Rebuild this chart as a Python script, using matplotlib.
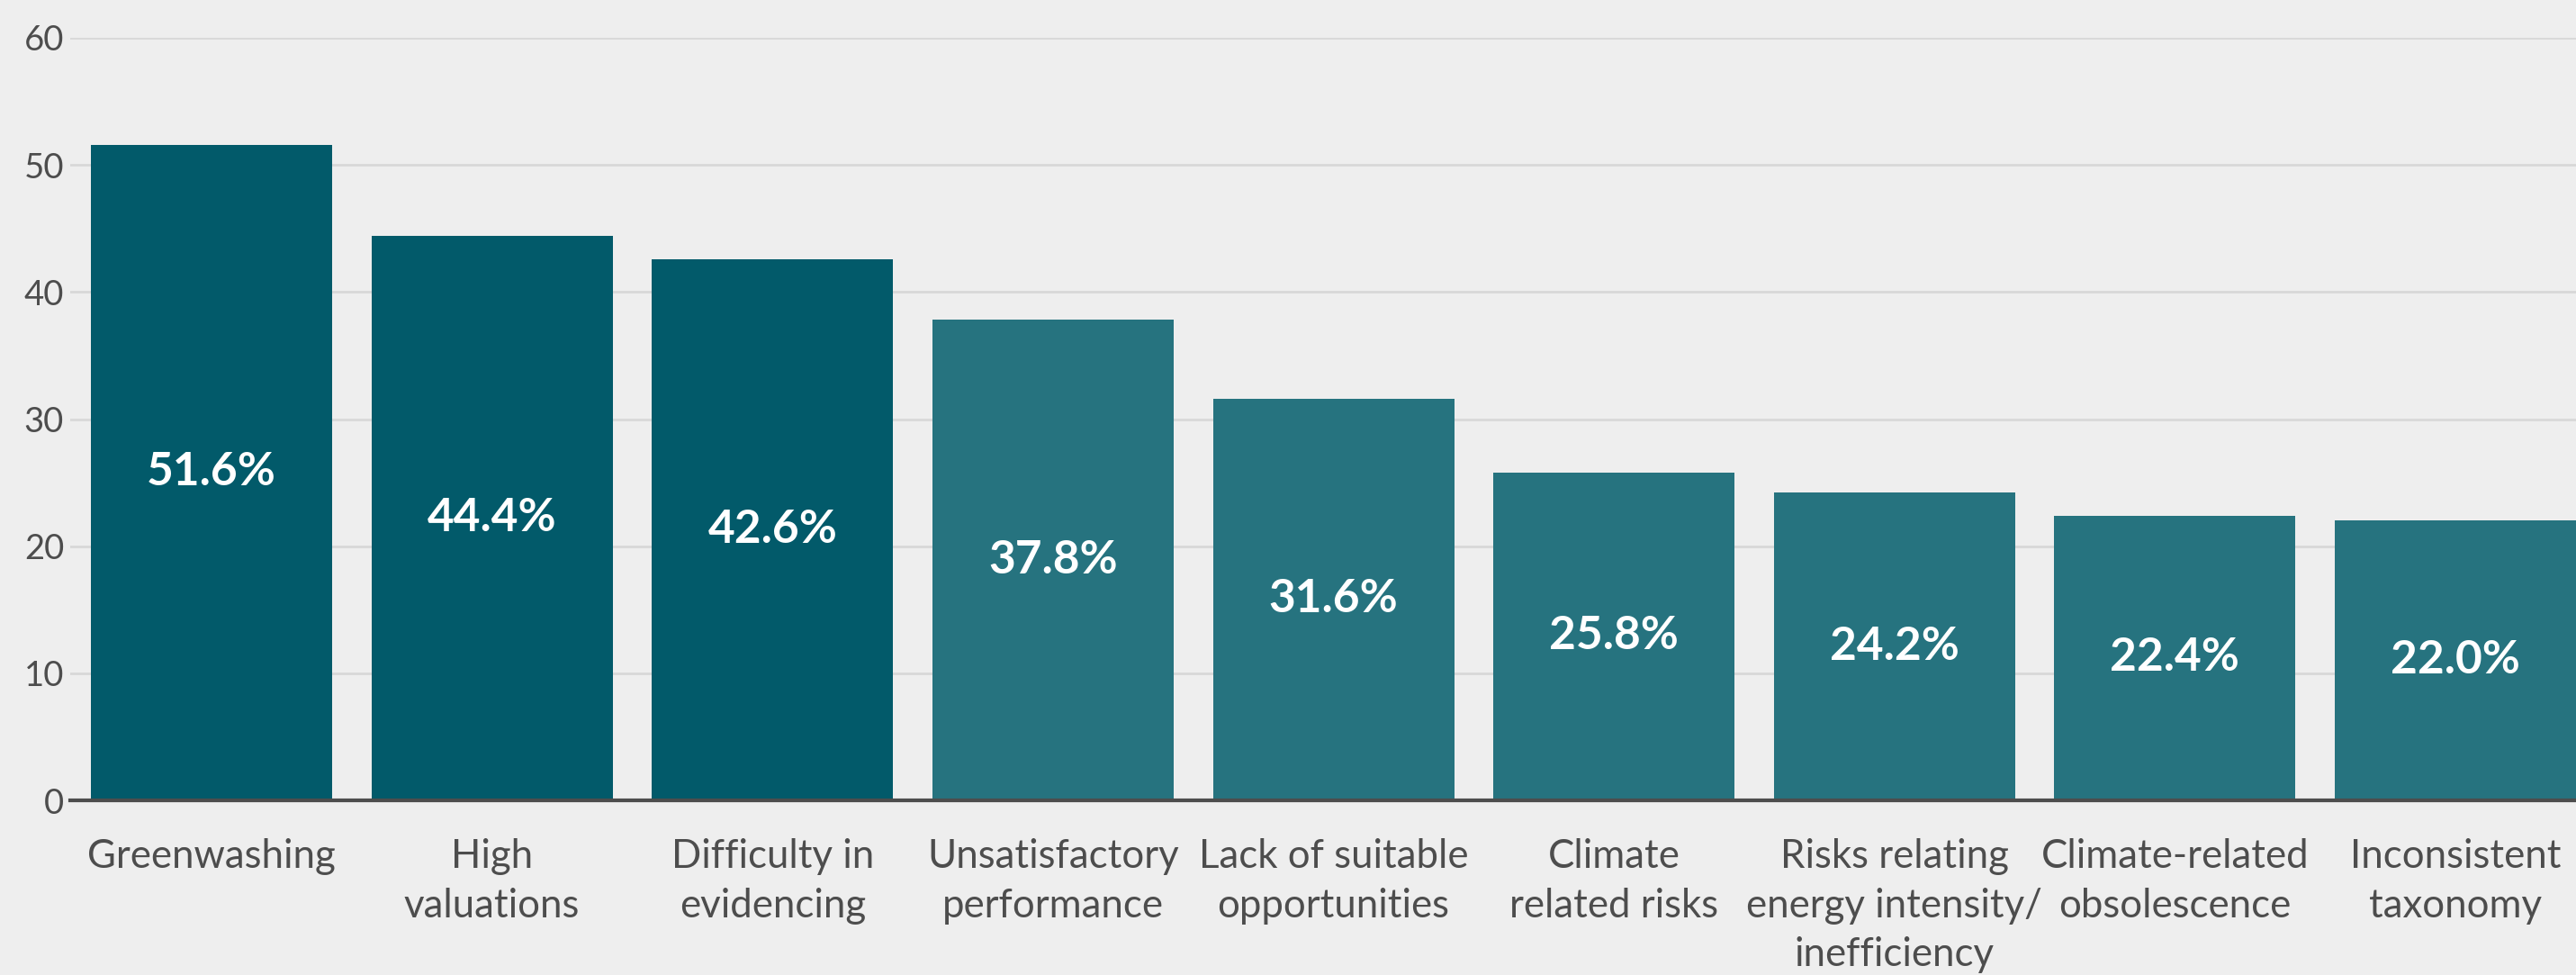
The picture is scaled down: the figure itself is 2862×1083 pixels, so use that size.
import matplotlib
matplotlib.use('Agg')
import matplotlib.pyplot as plt
import numpy as np

categories = ['Greenwashing', 'High\nvaluations', 'Difficulty in\nevidencing',
              'Unsatisfactory\nperformance', 'Lack of suitable\nopportunities',
              'Climate\nrelated risks', 'Risks relating\nenergy intensity/\ninefficiency',
              'Climate-related\nobsolescence', 'Inconsistent\ntaxonomy']
values = [51.6, 44.4, 42.6, 37.8, 31.6, 25.8, 24.2, 22.4, 22.0]
highlight = [True, True, True, False, False, False, False, False, False]

dark = '#025a6a'
light = '#26737f'
bg = '#eeeeee'
text_col = '#4d4d4d'

plt.rcParams['font.family'] = ['Lato', 'DejaVu Sans']

fig = plt.figure(figsize=(28.62, 10.83), dpi=100, facecolor=bg)
ax = fig.add_axes([78 / 2862, 1 - 889 / 1083, 1 - 78 / 2862, (889 - 42) / 1083])
ax.set_facecolor(bg)

x = np.arange(len(categories))
colors = [dark if h else light for h in highlight]
bars = ax.bar(x, values, width=0.86, color=colors, zorder=3)

# percentage labels in the middle of each bar
for xi, v in zip(x, values):
    ax.text(xi, v / 2, f'{v:.1f}%', ha='center', va='center', color='white',
            fontsize=37, fontweight='bold', zorder=4)

ax.set_xlim(-0.504, len(categories) - 1 + 0.43)
ax.set_ylim(0, 60)
ax.set_yticks(np.arange(0, 61, 10))
ax.set_xticks(x)
ax.set_xticklabels(categories, fontsize=31.5, color=text_col, linespacing=1.42)
ax.tick_params(axis='x', length=0, pad=30)
ax.tick_params(axis='y', length=0, pad=5, labelsize=27.5, labelcolor=text_col)

ax.grid(axis='y', color='#d8d8d8', linewidth=2, zorder=0)
for s in ['top', 'right', 'left']:
    ax.spines[s].set_visible(False)
ax.spines['bottom'].set_color(text_col)
ax.spines['bottom'].set_linewidth(3)
ax.spines['bottom'].set_zorder(5)

fig.savefig('out.png', dpi=100, facecolor=bg)
